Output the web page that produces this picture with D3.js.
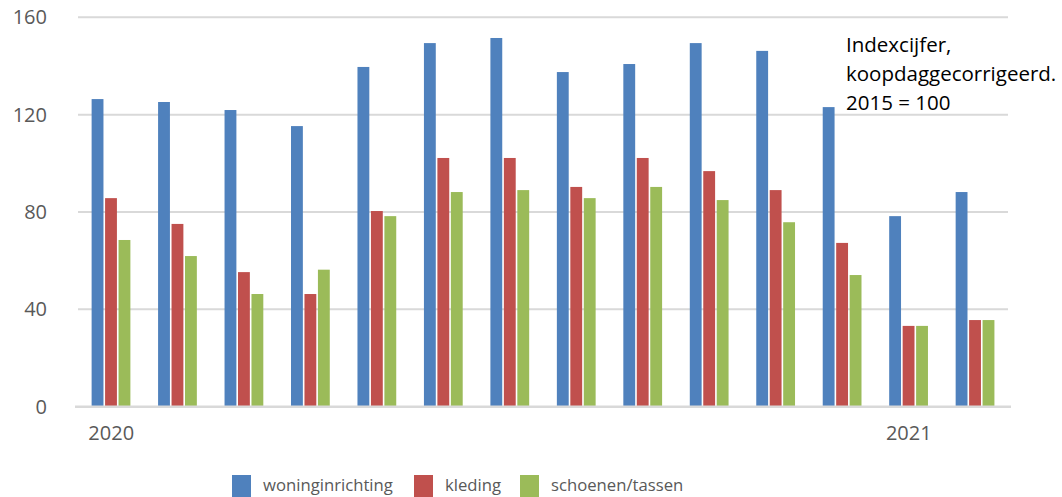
<!DOCTYPE html>
<html><head><meta charset="utf-8">
<script src="https://cdn.jsdelivr.net/npm/d3@7"></script>
<style>body{margin:0;background:#fff}svg{display:block}</style>
</head><body>
<svg id="c" width="1062" height="497"></svg>
<script>
const months = ["2020-01","2020-02","2020-03","2020-04","2020-05","2020-06","2020-07","2020-08","2020-09","2020-10","2020-11","2020-12","2021-01","2021-02"];
const xLabels = {"2020-01":"2020","2021-01":"2021"};
const seriesNames = ["woninginrichting","kleding","schoenen/tassen"];
const woninginrichting = [126.4,125.2,121.9,115.3,139.6,149.4,151.5,137.5,140.8,149.4,146.2,123.1,78.3,88.2];
const kleding = [85.7,75.1,55.3,46.3,80.4,102.2,102.2,90.3,102.2,96.8,89.0,67.3,33.2,35.6];
const schoenenTassen = [68.5,61.9,46.3,56.3,78.3,88.2,89.0,85.7,90.3,84.9,75.8,54.1,33.2,35.6];
const yTicks = [0,40,80,120,160];
const note = ["Indexcijfer,","koopdaggecorrigeerd.","2015 = 100"];
const colors = ["#4F81BD","#C0504D","#9BBB59"];
const seriesValues = [woninginrichting, kleding, schoenenTassen];

const svg = d3.select("#c");
const font = "'Open Sans', sans-serif";
const x = d3.scaleBand().domain(months).range([78, 1008.5]).padding(0);
const xs = d3.scaleBand().domain(seriesNames).range([12, 54]).padding(0.12);
const y = d3.scaleLinear().domain([0,160]).range([406.7, 17.3]);

// gridlines
svg.append("g").selectAll("line").data(yTicks.filter(d=>d>0)).join("line")
  .attr("x1",78).attr("x2",1008).attr("y1",d=>y(d)).attr("y2",d=>y(d))
  .attr("stroke","#D9D9D9").attr("stroke-width",2);

// bars
const g = svg.append("g");
seriesNames.forEach((s,i)=>{
  g.append("g").selectAll("rect").data(seriesValues[i]).join("rect")
    .attr("x",(d,j)=>x(months[j])+xs(s))
    .attr("width",xs.bandwidth())
    .attr("y",d=>y(d))
    .attr("height",d=>y(0)-y(d))
    .attr("fill",colors[i]);
});

// zero axis line
svg.append("line").attr("x1",75).attr("x2",1011).attr("y1",y(0)).attr("y2",y(0))
  .attr("stroke","#D9D9D9").attr("stroke-width",2.5);

// y labels
svg.append("g").selectAll("text").data(yTicks).join("text")
  .attr("x",47).attr("y",d=>y(d)+7).attr("text-anchor","end")
  .attr("font-family",font).attr("font-size",20).attr("fill","#595959")
  .text(d=>d);

// x labels
svg.append("g").selectAll("text").data(months.filter(m=>xLabels[m])).join("text")
  .attr("x",m=>x(m)+x.bandwidth()/2).attr("y",440).attr("text-anchor","middle")
  .attr("font-family",font).attr("font-size",20).attr("fill","#595959")
  .text(m=>xLabels[m]);

// note
svg.append("g").selectAll("text").data(note).join("text")
  .attr("x",846).attr("y",(d,i)=>52+i*29)
  .attr("font-family",font).attr("font-size",20.5).attr("fill","#000")
  .text(d=>d);

// legend
const legX = [232,414,520];
const lg = svg.append("g");
seriesNames.forEach((s,i)=>{
  lg.append("rect").attr("x",legX[i]).attr("y",475).attr("width",19).attr("height",22).attr("fill",colors[i]);
  lg.append("text").attr("x",legX[i]+31).attr("y",491)
    .attr("font-family",font).attr("font-size",16.7).attr("fill","#595959").text(s);
});
</script>
</body></html>
